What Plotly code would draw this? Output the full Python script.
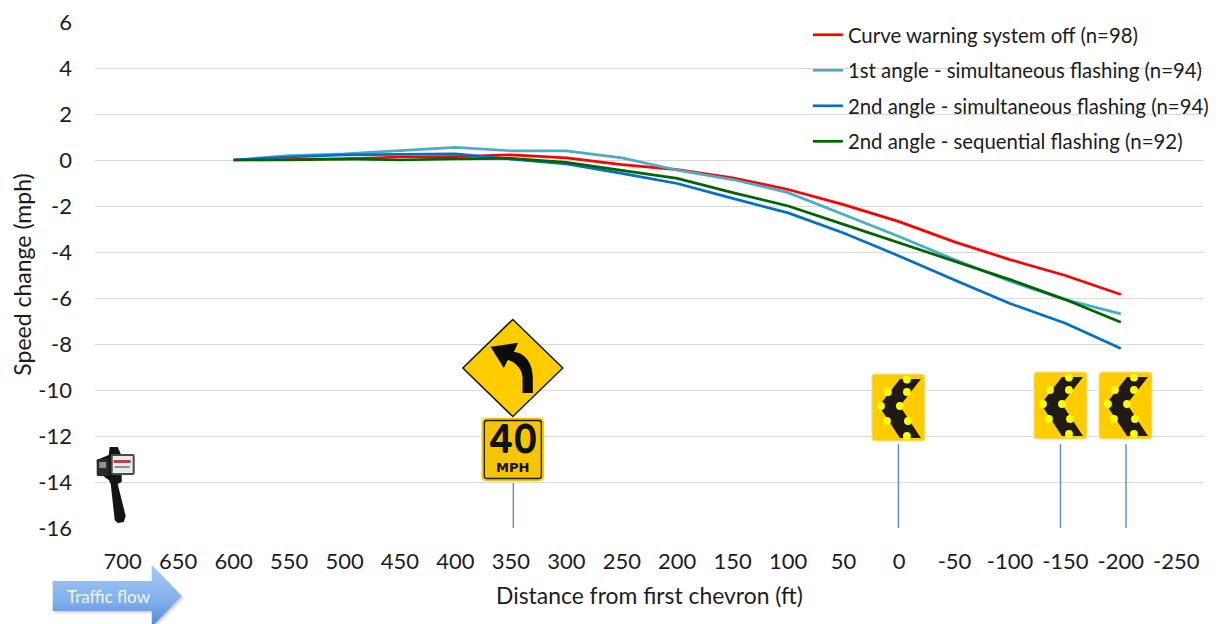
import base64
import plotly.graph_objects as go

W, H = 1216, 624
L, R, T, B = 95.3, 1204.0, 22.0, 528.0

distance = [600, 550, 500, 450, 400, 350, 300, 250, 200, 150, 100, 50, 0, -50, -100, -150, -200]
off_98 = [0, 0.03, 0.05, 0.13, 0.15, 0.22, 0.09, -0.2, -0.42, -0.77, -1.28, -1.94, -2.68, -3.56, -4.33, -5.02, -5.85]
first_sim_94 = [0, 0.19, 0.27, 0.4, 0.55, 0.4, 0.4, 0.09, -0.44, -0.85, -1.42, -2.37, -3.33, -4.33, -5.27, -6.07, -6.69]
second_sim_94 = [0, 0.13, 0.22, 0.25, 0.27, 0.04, -0.17, -0.58, -1.02, -1.67, -2.3, -3.17, -4.17, -5.22, -6.24, -7.1, -8.2]
second_seq_92 = [0, 0, 0.05, 0, 0.05, 0.07, -0.1, -0.45, -0.8, -1.42, -2.0, -2.8, -3.6, -4.4, -5.2, -6.07, -7.05]

series_names = ["Curve warning system off (n=98)", "1st angle - simultaneous flashing (n=94)",
                "2nd angle - simultaneous flashing (n=94)", "2nd angle - sequential flashing (n=92)"]
series_colors = ["#FF0000", "#4BACC6", "#0070C0", "#006400"]
x_ticks = [700, 650, 600, 550, 500, 450, 400, 350, 300, 250, 200, 150, 100, 50, 0, -50, -100, -150, -200, -250]
y_ticks = [6, 4, 2, 0, -2, -4, -6, -8, -10, -12, -14, -16]

FONT = "Lato"
TEXT = "#1c1c1c"

fig = go.Figure()
for name, color, vals in zip(series_names, series_colors, [off_98, first_sim_94, second_sim_94, second_seq_92]):
    fig.add_trace(go.Scatter(x=distance, y=vals, mode="lines", name=name, legendgroup=name,
                             line=dict(color=color, width=2.7)))


def paper_x(x):
    return (x - L) / (R - L)


def paper_y(y):
    return (B - y) / (B - T)


images, shapes, annotations = [], [], []


def svg_image(x, y, w, h, inner):
    svg = (f'<svg xmlns="http://www.w3.org/2000/svg" width="{w}" height="{h}" viewBox="0 0 {w} {h}">'
           f'{inner}</svg>')
    uri = "data:image/svg+xml;base64," + base64.b64encode(svg.encode()).decode()
    images.append(dict(source=uri, xref="paper", yref="paper", x=paper_x(x), y=paper_y(y),
                       sizex=w / (R - L), sizey=h / (B - T), xanchor="left", yanchor="top",
                       sizing="stretch", layer="above"))


def label(x, y, text, size, color, family=FONT, angle=0, shadow=None):
    font = dict(family=family, size=size, color=color)
    if shadow:
        font["shadow"] = shadow
    annotations.append(dict(xref="paper", yref="paper", x=paper_x(x), y=paper_y(y), text=text,
                            showarrow=False, xanchor="center", yanchor="middle", textangle=angle,
                            font=font))


# leader lines under the signs
for x0, y0 in [(513.5, 483), (898.5, 444), (1060.5, 444), (1126, 444)]:
    shapes.append(dict(type="line", xref="paper", yref="paper", x0=paper_x(x0), x1=paper_x(x0),
                       y0=paper_y(y0), y1=paper_y(528), line=dict(color="#5B8FC8", width=1.4),
                       layer="above"))

# curve warning diamond
svg_image(460, 316, 106, 104,
          '<path d="M53 3.5 L103 52 L53 100.5 L3 52 Z" fill="#FFCC00" stroke="#1a1a1a" '
          'stroke-width="1.6" stroke-linejoin="round"/>'
          '<path d="M30.7 30.7 L58.3 26.7 L54 36 C66 37 73 48 73 62 L73 77 L62.7 77 L62.7 62 '
          'C62.7 54 56 46 48 44 L44 52 Z" fill="#0c0c0c"/>')

# speed limit plate
svg_image(481, 417, 64, 65,
          '<rect x="1.5" y="1.5" width="61" height="62" rx="4" fill="#FFCC00" stroke="#F2C200" stroke-width="1.5"/>'
          '<rect x="3.5" y="3.5" width="57" height="58" rx="2.5" fill="#F7C400" stroke="#1a1a1a" stroke-width="1.3"/>')
label(513, 438.5, "40", 38, "#111111", "DejaVu Sans",
      shadow="0.7px 0 0 #111, -0.7px 0 0 #111, 0 0.6px 0 #111, 0 -0.6px 0 #111")
label(513, 467, "<b>MPH</b>", 13, "#111111", "DejaVu Sans")

# flashing chevrons
dots = [(35, 5.6), (16, 18), (35, 18), (9, 32), (28, 32), (15, 47), (36, 47), (35, 62)]
dot_svg = "".join(f'<circle cx="{a + 1}" cy="{b + 1}" r="3.9" fill="#FFFF00"/>' for a, b in dots)
chev = ('<rect x="1" y="1" width="53" height="67" rx="3" fill="#FFCC00" stroke="#F3E2A0" stroke-width="1"/>'
        '<path d="M50 6 L29 6 L8 33 L29 65 L50 65 L29 33 Z" fill="#1f1a17"/>' + dot_svg)
for x, y in [(871, 373), (1033, 371), (1098, 371)]:
    svg_image(x, y, 55, 69, chev)

# radar gun
svg_image(96, 444, 42, 82,
          '<path d="M14 3 L22 3 L26 12 L26 38 L22 40 L30 72 L28 78 L22 79 L19 76 L15 40 L13 36 L2 28 L1 16 L13 11 Z" fill="#141414"/>'
          '<rect x="1" y="15" width="12" height="17" rx="1.5" fill="#2a2a2a"/>'
          '<rect x="3.5" y="18" width="7" height="6" fill="#8d9488"/>'
          '<rect x="15" y="10" width="24" height="21" rx="2" fill="#4a4a4a"/>'
          '<rect x="17" y="12" width="20" height="17" fill="#e9e9ee"/>'
          '<rect x="18" y="16" width="17" height="3" fill="#b8473f"/>'
          '<rect x="19" y="22" width="15" height="2" fill="#8a8fa0"/>')

# traffic arrow
svg_image(50, 562, 138, 62,
          '<defs><linearGradient id="g" x1="0" y1="0" x2="0" y2="1">'
          '<stop offset="0" stop-color="#A9CBF4"/><stop offset="0.6" stop-color="#7FAEEA"/>'
          '<stop offset="1" stop-color="#4A88D6"/></linearGradient>'
          '<filter id="s" x="-10%" y="-10%" width="120%" height="120%"><feGaussianBlur stdDeviation="1.2"/></filter></defs>'
          '<path d="M4 20 L103 20 L103 4 L133 35 L103 66 L103 50 L4 50 Z" fill="#9a9a9a" opacity="0.45" '
          'filter="url(#s)" transform="translate(1,1)"/>'
          '<path d="M3 19 L102 19 L102 3 L132 34 L102 65 L102 49 L3 49 Z" fill="url(#g)"/>')
label(109, 596, "Traffic flow", 17, "#F2F7FF")

# axis titles
label(650, 595, "Distance from first chevron (ft)", 22.9, TEXT)
label(22, 275, "Speed change (mph)", 23, TEXT, angle=-90)

fig.update_layout(
    width=W, height=H, autosize=False,
    margin=dict(l=L, r=W - R, t=T, b=H - B, pad=0, autoexpand=False),
    paper_bgcolor="white", plot_bgcolor="white",
    font=dict(family=FONT, size=22, color=TEXT),
    xaxis=dict(range=[725, -275], tickmode="array", tickvals=x_ticks, ticktext=[str(v) for v in x_ticks],
               showgrid=False, zeroline=False, showline=False, ticks="", ticklabelstandoff=18,
               automargin=False, tickfont=dict(family=FONT, size=22, color=TEXT)),
    yaxis=dict(range=[-16, 6], tickmode="array", tickvals=y_ticks, ticktext=[str(v) for v in y_ticks],
               showgrid=True, gridcolor="#D9D9D9", gridwidth=1, zeroline=False, showline=False, ticks="",
               ticklabelstandoff=22, automargin=False,
               tickfont=dict(family=FONT, size=22, color=TEXT)),
    legend=dict(xref="paper", yref="paper", x=paper_x(808), y=paper_y(15), xanchor="left", yanchor="top",
                bgcolor="rgba(0,0,0,0)", borderwidth=0, tracegroupgap=6, itemwidth=30,
                font=dict(family=FONT, size=20.4, color=TEXT)),
    images=images, shapes=shapes, annotations=annotations,
)

fig.write_html("out.html", config=dict(displayModeBar=False),
               post_script="document.body.style.margin='0';document.body.style.overflow='hidden';")
